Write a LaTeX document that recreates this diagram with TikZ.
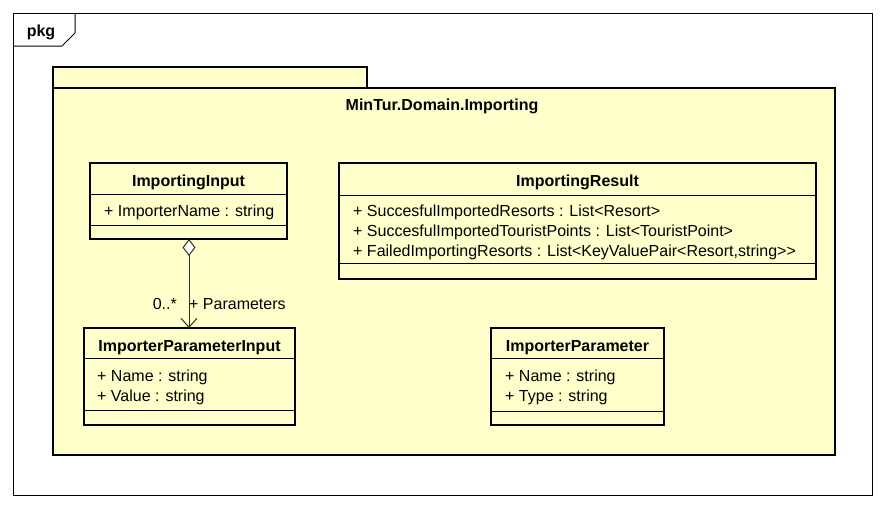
\documentclass[tikz,border=0pt]{standalone}
\usepackage{fontspec}
\setmainfont{Liberation Sans}
\usetikzlibrary{arrows.meta}
\definecolor{pkgfill}{HTML}{FFFFCC}
\definecolor{linkcol}{HTML}{333322}
\tikzset{
  frameline/.style={draw=black, line width=1pt},
  pkgbox/.style={draw=black, fill=pkgfill, line width=2.8pt},
  classbox/.style={draw=black, fill=pkgfill, line width=2.8pt, rectangle, inner sep=0pt, outer sep=0pt},
  sepline/.style={draw=black, line width=1pt},
  titletext/.style={font=\fontsize{16}{19}\selectfont\bfseries, inner sep=0pt, anchor=base},
  attrtext/.style={font=\fontsize{16}{19}\selectfont, inner sep=0pt, anchor=base west},
  labeltext/.style={font=\fontsize{16}{19}\selectfont, inner sep=0pt},
  aggr/.style={draw=linkcol, line width=1pt, {Diamond[open,fill=white,length=17pt,width=13pt]}-{Straight Barb[length=9pt,width=16pt]}}
}
\begin{document}
\begin{tikzpicture}[x=1pt,y=-1pt]
\useasboundingbox (0,0) rectangle (885,509);
% outer frame
\draw[frameline] (13,13) rectangle (872,495);
\draw[frameline] (13,46) -- (62,46) -- (75,33) -- (75,13);
\node[titletext] (pkglabel) at (41,36) {pkg};
% package
\draw[pkgbox] (53,67) rectangle (367,88);
\draw[pkgbox] (53,88) rectangle (835,455);
\node[titletext] (pkgname) at (442,110) {MinTur.Domain.Importing};
% ImportingInput
\node[classbox, minimum width=197pt, minimum height=76pt] (ii) at (188.5,201) {};
\draw[sepline] (90,194) -- (287,194);
\draw[sepline] (90,225) -- (287,225);
\node[titletext] (iit) at (188.5,186) {ImportingInput};
\node[attrtext] (iia) at (104,216.5) {+ ImporterName : string};
% ImportingResult
\node[classbox, minimum width=477pt, minimum height=116pt] (ir) at (577.5,221) {};
\draw[sepline] (339,195) -- (816,195);
\draw[sepline] (339,263) -- (816,263);
\node[titletext] (irt) at (577.5,186) {ImportingResult};
\node[attrtext] (ira) at (353,216.7) {+ SuccesfulImportedResorts : List<Resort>};
\node[attrtext] (irb) at (353,236.7) {+ SuccesfulImportedTouristPoints : List<TouristPoint>};
\node[attrtext] (irc) at (353,256.7) {+ FailedImportingResorts : List<KeyValuePair<Resort,string>{}>};
% ImporterParameterInput
\node[classbox, minimum width=211pt, minimum height=97pt] (ipi) at (189.5,376.5) {};
\draw[sepline] (84,358) -- (295,358);
\draw[sepline] (84,410) -- (295,410);
\node[titletext] (ipit) at (189.5,351) {ImporterParameterInput};
\node[attrtext] (ipia) at (97,381.7) {+ Name : string};
\node[attrtext] (ipib) at (97,401.7) {+ Value : string};
% ImporterParameter
\node[classbox, minimum width=173pt, minimum height=97pt] (ip) at (577.5,376.5) {};
\draw[sepline] (491,358) -- (664,358);
\draw[sepline] (491,411) -- (664,411);
\node[titletext] (ipt) at (577.5,351) {ImporterParameter};
\node[attrtext] (ipa) at (505,381.7) {+ Name : string};
\node[attrtext] (ipb) at (505,401.7) {+ Type : string};
% aggregation
\draw[aggr] (ii.south -| 189,0) -- (ipi.north -| 189,0);
\node[labeltext, anchor=base east] (mult) at (177,309) {0..*};
\node[labeltext, anchor=base west] (role) at (189,309) {+ Parameters};
\end{tikzpicture}
\end{document}
